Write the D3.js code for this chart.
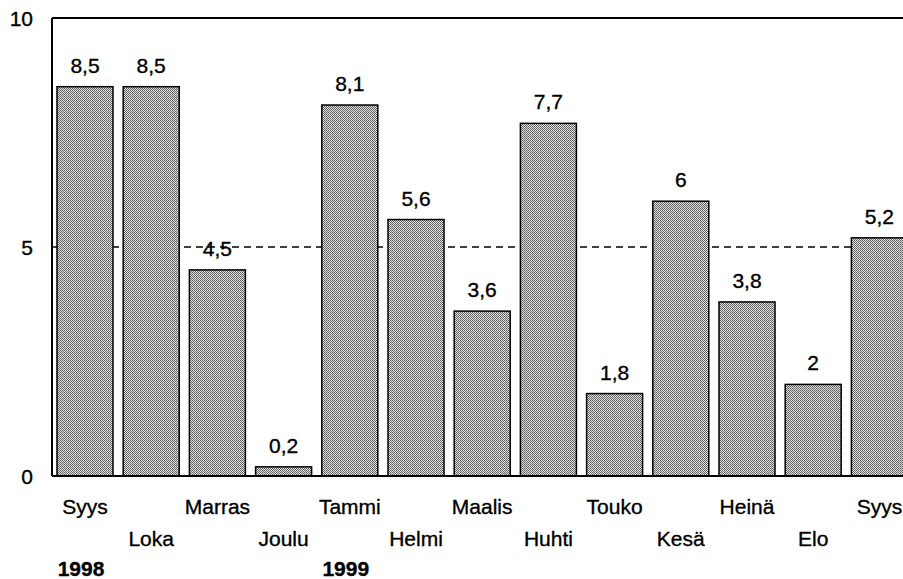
<!DOCTYPE html>
<html>
<head>
<meta charset="utf-8">
<script src="https://cdn.jsdelivr.net/npm/d3@7"></script>
<style>
  body { margin: 0; background: #fff; }
  text { font-family: "Liberation Sans", Arial, sans-serif; fill: #000; stroke: #000; stroke-width: 0.35px; }
</style>
</head>
<body>
<div id="chart"></div>
<script>
const MONTHS = ["Syys", "Loka", "Marras", "Joulu", "Tammi", "Helmi", "Maalis", "Huhti", "Touko", "Kesä", "Heinä", "Elo", "Syys"];
const VALUES = [8.5, 8.5, 4.5, 0.2, 8.1, 5.6, 3.6, 7.7, 1.8, 6, 3.8, 2, 5.2];
const YEAR_LABELS = ["1998", "1999"];
const YEAR_AT = [0, 4];          // which month the year label sits under
const Y_TICKS = [0, 5, 10];
const REF_LINE = 5;

const WIDTH = 903;
const HEIGHT = 579;
const LEFT = 52;

const fi = d3.formatLocale({decimal: ",", thousands: " ", grouping: [3], currency: ["", "€"]});
const fmt = v => Number.isInteger(v) ? String(v) : fi.format(".1f")(v);

const svg = d3.select("#chart").append("svg")
    .attr("width", WIDTH)
    .attr("height", HEIGHT);

// halftone-like fill for the bars
const pat = svg.append("defs").append("pattern")
    .attr("id", "dots")
    .attr("patternUnits", "userSpaceOnUse")
    .attr("width", 2).attr("height", 2);
pat.append("rect").attr("width", 2).attr("height", 2).attr("fill", "#dcdcdc");
pat.append("rect").attr("width", 1).attr("height", 1).attr("fill", "#5e5e5e");
pat.append("rect").attr("x", 1).attr("y", 1).attr("width", 1).attr("height", 1).attr("fill", "#707070");

const x = d3.scaleBand()
    .domain(d3.range(MONTHS.length))
    .range([LEFT, 912.4])
    .paddingInner(0.154)
    .paddingOuter(0.0755);

const y = d3.scaleLinear()
    .domain([0, 10])
    .range([476, 18]);

// frame: left axis + top line
svg.append("line")
    .attr("x1", LEFT).attr("x2", LEFT)
    .attr("y1", y(10)).attr("y2", y(0))
    .attr("stroke", "#000").attr("stroke-width", 2);
svg.append("line")
    .attr("x1", LEFT).attr("x2", WIDTH)
    .attr("y1", y(10)).attr("y2", y(10))
    .attr("stroke", "#000").attr("stroke-width", 2);

// dashed reference line
svg.append("line")
    .attr("x1", LEFT).attr("x2", WIDTH)
    .attr("y1", y(REF_LINE)).attr("y2", y(REF_LINE))
    .attr("stroke", "#000").attr("stroke-width", 1.4)
    .attr("stroke-dasharray", "7,5");

// y tick labels
svg.selectAll(".ytick")
  .data(Y_TICKS)
  .enter()
  .append("text")
    .attr("class", "ytick")
    .attr("x", 33)
    .attr("y", d => y(d) + 8)
    .attr("text-anchor", "end")
    .attr("font-size", "21px")
    .text(d => d);

// bars
svg.selectAll(".bar")
  .data(VALUES)
  .enter()
  .append("rect")
    .attr("class", "bar")
    .attr("x", (d, i) => x(i))
    .attr("y", d => y(d))
    .attr("width", x.bandwidth())
    .attr("height", d => y(0) - y(d))
    .attr("fill", "url(#dots)")
    .attr("stroke", "#000")
    .attr("stroke-width", 1.5);

// bottom axis line
svg.append("line")
    .attr("x1", LEFT).attr("x2", WIDTH)
    .attr("y1", y(0)).attr("y2", y(0))
    .attr("stroke", "#000").attr("stroke-width", 2);

// value labels
svg.selectAll(".val")
  .data(VALUES)
  .enter()
  .append("text")
    .attr("class", "val")
    .attr("x", (d, i) => x(i) + x.bandwidth() / 2)
    .attr("y", d => y(d) - 14)
    .attr("text-anchor", "middle")
    .attr("font-size", "21px")
    .text(d => fmt(d));

// month labels, staggered in two rows
svg.selectAll(".month")
  .data(MONTHS)
  .enter()
  .append("text")
    .attr("class", "month")
    .attr("x", (d, i) => x(i) + x.bandwidth() / 2)
    .attr("y", (d, i) => i % 2 === 0 ? 514 : 546)
    .attr("text-anchor", "middle")
    .attr("font-size", "21px")
    .text(d => d);

// year labels
svg.selectAll(".year")
  .data(YEAR_LABELS)
  .enter()
  .append("text")
    .attr("class", "year")
    .attr("x", (d, i) => x(YEAR_AT[i]) + x.bandwidth() / 2 - 4)
    .attr("y", 576)
    .attr("text-anchor", "middle")
    .attr("font-size", "21px")
    .attr("font-weight", "bold")
    .text(d => d);
</script>
</body>
</html>
